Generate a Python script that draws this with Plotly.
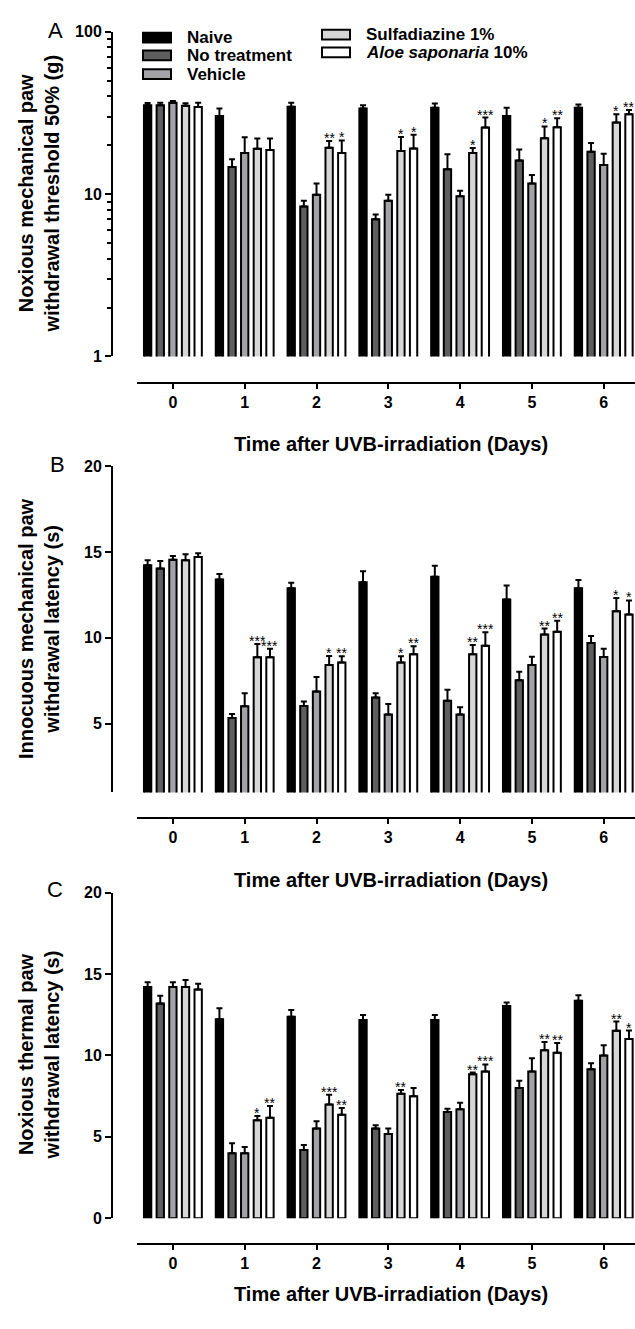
import numpy as np
import plotly.graph_objects as go

W, H = 635, 1329
FONT = "Liberation Sans, Arial, Helvetica, sans-serif"

# ---------------- data ----------------
days = [0, 1, 2, 3, 4, 5, 6]
day_labels = ["0", "1", "2", "3", "4", "5", "6"]
groups = ["Naive", "No treatment", "Vehicle", "Sulfadiazine 1%", "Aloe saponaria 10%"]
legend_labels = ["Naive", "No treatment", "Vehicle", "Sulfadiazine 1%", "<i>Aloe saponaria</i> 10%"]
colors = ["#000000", "#5e5e5e", "#a3a3a7", "#d6d6d6", "#ffffff"]

# Panel A: noxious mechanical paw withdrawal threshold 50% (g), log scale
a_naive = [35.3, 30.3, 34.5, 33.7, 34.0, 30.3, 34.0]
a_notreat = [35.3, 14.7, 8.4, 7.0, 14.2, 16.1, 18.2]
a_vehicle = [36.5, 17.9, 9.9, 9.1, 9.7, 11.6, 15.1]
a_sulfa = [35.0, 19.0, 19.3, 18.4, 17.9, 22.1, 27.6]
a_aloe = [34.4, 18.7, 17.9, 19.1, 25.7, 25.8, 31.0]
a_naive_err = [1.1, 3.4, 2.0, 1.6, 2.1, 3.7, 1.6]
a_notreat_err = [1.2, 1.7, 0.7, 0.5, 3.4, 2.7, 2.4]
a_vehicle_err = [0.9, 4.5, 1.7, 0.8, 0.8, 1.5, 2.6]
a_sulfa_err = [1.2, 3.0, 1.9, 4.1, 1.3, 4.0, 3.4]
a_aloe_err = [2.1, 3.3, 3.5, 4.1, 3.9, 3.5, 2.0]
a_sulfa_sig = ["", "", "**", "*", "*", "*", "*"]
a_aloe_sig = ["", "", "*", "*", "***", "**", "**"]

# Panel B: innocuous mechanical paw withdrawal latency (s)
b_naive = [14.23, 13.39, 12.89, 13.24, 13.55, 12.23, 12.89]
b_notreat = [14.04, 5.34, 6.03, 6.53, 6.34, 7.53, 9.70]
b_vehicle = [14.54, 6.02, 6.88, 5.53, 5.53, 8.42, 8.89]
b_sulfa = [14.52, 8.87, 8.42, 8.57, 9.05, 10.20, 11.55]
b_aloe = [14.71, 8.87, 8.57, 9.05, 9.54, 10.36, 11.36]
b_naive_err = [0.29, 0.33, 0.31, 0.63, 0.65, 0.82, 0.48]
b_notreat_err = [0.44, 0.23, 0.27, 0.24, 0.64, 0.50, 0.41]
b_vehicle_err = [0.23, 0.75, 0.84, 0.62, 0.43, 0.48, 0.48]
b_sulfa_err = [0.35, 0.77, 0.52, 0.36, 0.53, 0.34, 0.77]
b_aloe_err = [0.22, 0.50, 0.36, 0.46, 0.79, 0.64, 0.82]
b_sulfa_sig = ["", "***", "*", "*", "**", "**", "*"]
b_aloe_sig = ["", "***", "**", "**", "***", "**", "*"]

# Panel C: noxious thermal paw withdrawal latency (s)
c_naive = [14.20, 12.22, 12.38, 12.18, 12.18, 13.03, 13.35]
c_notreat = [13.19, 4.00, 4.20, 5.52, 6.53, 8.00, 9.15]
c_vehicle = [14.20, 4.00, 5.52, 5.17, 6.69, 9.01, 10.00]
c_sulfa = [14.20, 6.02, 6.99, 7.64, 8.85, 10.32, 11.52]
c_aloe = [14.04, 6.18, 6.36, 7.49, 9.01, 10.16, 11.01]
c_naive_err = [0.30, 0.67, 0.41, 0.30, 0.30, 0.22, 0.35]
c_notreat_err = [0.47, 0.61, 0.30, 0.20, 0.20, 0.44, 0.37]
c_vehicle_err = [0.30, 0.38, 0.44, 0.35, 0.40, 0.81, 0.63]
c_sulfa_err = [0.43, 0.26, 0.59, 0.24, 0.10, 0.51, 0.56]
c_aloe_err = [0.36, 0.71, 0.41, 0.51, 0.44, 0.61, 0.52]
c_sulfa_sig = ["", "*", "***", "**", "**", "**", "**"]
c_aloe_sig = ["", "**", "**", "", "***", "**", "*"]

y_titles = [
    "Noxious mechanical paw<br>withdrawal threshold 50% (g)",
    "Innocuous mechanical paw<br>withdrawal latency (s)",
    "Noxious thermal paw<br>withdrawal latency (s)",
]
x_title = "Time after UVB-irradiation (Days)"
panel_letters = ["A", "B", "C"]

panels_data = [
    dict(means=[a_naive, a_notreat, a_vehicle, a_sulfa, a_aloe],
         errs=[a_naive_err, a_notreat_err, a_vehicle_err, a_sulfa_err, a_aloe_err],
         sigs={3: a_sulfa_sig, 4: a_aloe_sig}),
    dict(means=[b_naive, b_notreat, b_vehicle, b_sulfa, b_aloe],
         errs=[b_naive_err, b_notreat_err, b_vehicle_err, b_sulfa_err, b_aloe_err],
         sigs={3: b_sulfa_sig, 4: b_aloe_sig}),
    dict(means=[c_naive, c_notreat, c_vehicle, c_sulfa, c_aloe],
         errs=[c_naive_err, c_notreat_err, c_vehicle_err, c_sulfa_err, c_aloe_err],
         sigs={3: c_sulfa_sig, 4: c_aloe_sig}),
]

# ---------------- layout geometry (pixels) ----------------
BARGAP = 0.12
BARGROUPGAP = 0.42
X_LEFT_PX = 137
PX_PER_DAY = 71.8
YAXIS_X_PX = 112

panel_geom = [
    dict(top=24, bottom=353, xline=380, ytype="log", yrange=[0, 2],
         tickvals=[1, 10, 100], ticktext=["1", "10", "100"],
         minor=[2, 3, 4, 5, 6, 7, 8, 9, 20, 30, 40, 50, 60, 70, 80, 90],
         xtitle_y=442, ytitle_y=188, letter=(55, 23)),
    dict(top=464, bottom=794.6, xline=820, ytype="linear", yrange=[1, 20],
         tickvals=[5, 10, 15, 20], ticktext=["5", "10", "15", "20"], minor=None,
         xtitle_y=883, ytitle_y=629, letter=(57, 462)),
    dict(top=896, bottom=1226, xline=1252, ytype="linear", yrange=[0, 20],
         tickvals=[0, 5, 10, 15, 20], ticktext=["0", "5", "10", "15", "20"], minor=None,
         xtitle_y=1303, ytitle_y=1061, letter=(55, 893)),
]


def px_x(p):
    return p / W


def px_y(p):
    return 1 - p / H


fig = go.Figure()
annotations = []
shapes = []
layout_axes = {}

x_range = [-0.5, -0.5 + (W - X_LEFT_PX) / PX_PER_DAY]
pitch = (1 - BARGAP) / 5

for pi, (pdata, geom) in enumerate(zip(panels_data, panel_geom)):
    sfx = "" if pi == 0 else str(pi + 1)
    xa, ya = "x" + sfx, "y" + sfx
    for gi, name in enumerate(groups):
        fig.add_trace(go.Bar(
            x=days, y=pdata["means"][gi], name=name,
            xaxis=xa, yaxis=ya, showlegend=False,
            marker=dict(color=colors[gi], line=dict(color="black", width=2)),
            error_y=dict(type="data", symmetric=False,
                         array=pdata["errs"][gi], arrayminus=[0] * len(days),
                         color="black", thickness=2, width=3),
        ))
    # significance stars
    for gi, sig in pdata["sigs"].items():
        for d, s in zip(days, sig):
            if not s:
                continue
            top = pdata["means"][gi][d] + pdata["errs"][gi][d]
            yv = np.log10(top) if geom["ytype"] == "log" else top
            annotations.append(dict(
                x=d + (gi - 2) * pitch, y=yv, xref=xa, yref=ya,
                text=s, showarrow=False, xanchor="center", yanchor="bottom",
                yshift=-7, font=dict(family=FONT, size=14, color="black"),
            ))

    layout_axes["xaxis" + sfx] = dict(
        domain=[px_x(X_LEFT_PX), 1], range=x_range, anchor="free",
        position=px_y(geom["xline"]), showline=True, linecolor="black", linewidth=2,
        ticks="outside", ticklen=5, tickwidth=2, tickcolor="black",
        tickmode="array", tickvals=days, ticktext=day_labels,
        tickfont=dict(family=FONT, size=16, color="black", weight="bold"),
        showgrid=False, zeroline=False, fixedrange=True,
    )
    yax = dict(
        domain=[px_y(geom["bottom"]), px_y(geom["top"])], anchor="free",
        position=px_x(YAXIS_X_PX), type=geom["ytype"], range=geom["yrange"],
        showline=True, linecolor="black", linewidth=2,
        ticks="outside", ticklen=6, tickwidth=2, tickcolor="black",
        tickmode="array", tickvals=geom["tickvals"], ticktext=geom["ticktext"],
        tickfont=dict(family=FONT, size=16, color="black", weight="bold"),
        showgrid=False, zeroline=False, fixedrange=True,
    )
    if geom["minor"]:
        yax["minor"] = dict(ticks="outside", ticklen=4, tickwidth=2, tickcolor="black",
                            tickmode="array", tickvals=geom["minor"], showgrid=False)
    layout_axes["yaxis" + sfx] = yax

    # axis titles and panel letters
    annotations.append(dict(
        xref="paper", yref="paper", x=px_x(391), y=px_y(geom["xtitle_y"]),
        text=x_title, showarrow=False, xanchor="center", yanchor="middle",
        font=dict(family=FONT, size=20, color="black", weight="bold"),
    ))
    annotations.append(dict(
        xref="paper", yref="paper", x=px_x(39), y=px_y(geom["ytitle_y"]),
        text=y_titles[pi], showarrow=False, xanchor="center", yanchor="middle",
        textangle=-90,
        font=dict(family=FONT, size=20, color="black", weight="bold"),
    ))
    lx, ly = geom["letter"]
    annotations.append(dict(
        xref="paper", yref="paper", x=px_x(lx), y=px_y(ly),
        text=panel_letters[pi], showarrow=False, xanchor="center", yanchor="middle",
        font=dict(family=FONT, size=22, color="black"),
    ))

# legend drawn as swatches + labels in panel A
legend_pos = [(143, 30), (143, 48), (143, 67), (322, 27), (322, 45)]
for (lx, ly), lab, col in zip(legend_pos, legend_labels, colors):
    shapes.append(dict(
        type="rect", xref="paper", yref="paper",
        x0=px_x(lx), x1=px_x(lx + 28), y0=px_y(ly + 5), y1=px_y(ly - 5),
        fillcolor=col, line=dict(color="black", width=2),
    ))
    annotations.append(dict(
        xref="paper", yref="paper", x=px_x(lx + 42), y=px_y(ly),
        text=lab, showarrow=False, xanchor="left", yanchor="middle",
        font=dict(family=FONT, size=17, color="black", weight="bold"),
    ))

fig.update_layout(
    width=W, height=H,
    margin=dict(l=0, r=0, t=0, b=0),
    paper_bgcolor="white", plot_bgcolor="white",
    barmode="group", bargap=BARGAP, bargroupgap=BARGROUPGAP,
    showlegend=False,
    annotations=annotations, shapes=shapes,
    font=dict(family=FONT, color="black"),
    **layout_axes,
)

fig.write_html("out.html", config={"displayModeBar": False})
